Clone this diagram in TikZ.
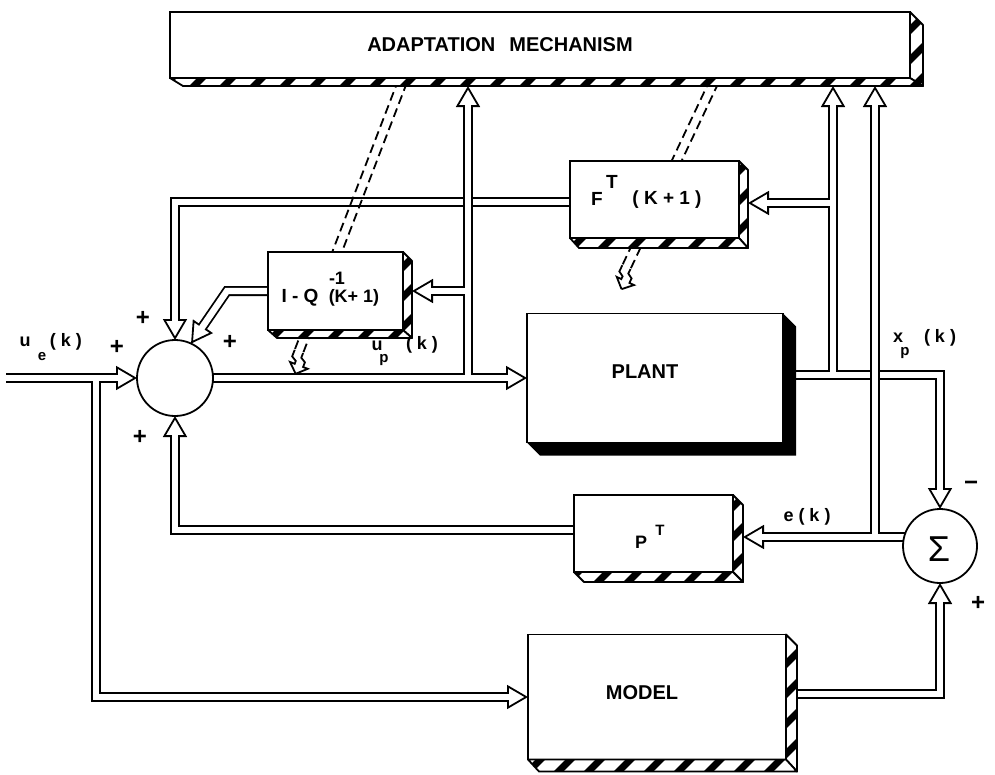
\documentclass[tikz,border=0pt]{standalone}
\usepackage{fontspec}
\setmainfont{Liberation Sans}
\usetikzlibrary{arrows.meta,calc}
\pgfdeclarelayer{paper}
\pgfdeclarelayer{wires}
\pgfsetlayers{paper,wires,main}

\newcommand\hatchface[1]{%
  \fill[white] #1;
  \begin{scope}
    \clip #1;
    \foreach \hx in {-820,-790,...,1000} \draw[line width=7pt] (\hx,800) -- ++(800,-800);
  \end{scope}
  \draw[line width=1.8pt,line join=round] #1;}
\newcommand\depthbox[3]{%
  \hatchface{(#1.north east) -- ++(#2,#2) -- ($(#1.south east)+(#2,#3)$) -- (#1.south east) -- cycle}
  \hatchface{(#1.south west) -- ++(#2,#3) -- ($(#1.south east)+(#2,#3)$) -- (#1.south east) -- cycle}
  \draw[line width=1.8pt] (#1.south west) rectangle (#1.north east);}

\newcommand\groupone[1]{%
  \draw[#1] (inL) -- (inE);
  \draw[#1] (inJ) -- (md1) -- (mdE);
  \draw[#1] (fo0) -- (fo1) -- (foE);
  \draw[#1] (po0) -- (po1) -- (poE);
  \draw[#1] (poJ) -- (puE);
  \draw[#1] (pu1) -- (fiE);
  \draw[#1] (mo0) -- (mo1) -- (moE);
  \draw[#1] (pt0) -- (pt1) -- (ptE);
  \draw[#1] (iq0) -- (iq1) -- (iqE);}
\newcommand\grouptwo[1]{%
  \draw[#1] (coS) -- (coE);
  \draw[#1] (coJ) -- (cuE);
  \draw[#1] (cu1) -- (ciE);
  \draw[#1] (eS) -- (eE);
  \draw[#1] (eJ) -- (euE);}

\tikzset{
  pipeblack/.style={draw=black,line width=10pt,line join=miter,line cap=butt},
  pipewhite/.style={draw=white,line width=6.4pt,line join=miter,line cap=butt},
  headst/.style={draw=black,line width=1.8pt,-{Triangle[length=21pt,width=24pt,fill=white]}},
  frontbox/.style={draw,fill=white,line width=1.8pt,inner sep=0pt,outer sep=0pt},
  sumnode/.style={circle,draw,fill=white,line width=1.8pt,inner sep=0pt,outer sep=0pt},
  dashln/.style={line width=1.8pt,dash pattern=on 9pt off 5pt},
  boltln/.style={line width=1.8pt,line join=miter},
  txt/.style={inner sep=0pt,font=\bfseries\fontsize{18}{18}\selectfont},
  mid/.style={inner sep=0pt,font=\bfseries\fontsize{19}{19}\selectfont},
  big/.style={inner sep=0pt,font=\bfseries\fontsize{20}{20}\selectfont},
  pm/.style={inner sep=0pt,font=\bfseries\fontsize{24}{24}\selectfont},
  sm/.style={inner sep=0pt,font=\bfseries\fontsize{15}{15}\selectfont},
}

\begin{document}
\begin{tikzpicture}[x=1pt,y=-1pt]
\useasboundingbox (0,0) rectangle (995,774);
\begin{pgfonlayer}{paper}
\fill[white] (0,0) rectangle (995,774);
\end{pgfonlayer}

% ---------- blocks ----------
\node[frontbox,minimum width=740pt,minimum height=66pt] (am) at (540,45) {};
\node[frontbox,minimum width=169pt,minimum height=77pt] (fb) at (654.5,199.5) {};
\node[frontbox,minimum width=135pt,minimum height=78pt] (iq) at (335.5,291) {};
\node[frontbox,minimum width=256pt,minimum height=129pt] (plant) at (655,378) {};
\node[frontbox,minimum width=159pt,minimum height=77pt] (pt) at (653.5,533.5) {};
\node[frontbox,minimum width=258pt,minimum height=125pt] (model) at (657,697) {};
\node[sumnode,minimum size=76pt] (s1) at (175,378) {};
\node[sumnode,minimum size=74pt] (s2) at (940,546) {};

\depthbox{am}{13}{8}
\depthbox{fb}{9}{10}
\depthbox{iq}{9}{8}
\depthbox{pt}{10}{10}
\depthbox{model}{11}{12}
\fill (plant.north east) -- ++(13,13) -- ($(plant.south east)+(13,13)$) -- ($(plant.south west)+(13,13)$) -- (plant.south west) -- (plant.south east) -- cycle;
\draw[line width=1.8pt] (plant.south west) rectangle (plant.north east);

% ---------- connector points ----------
\coordinate (inL) at (6,378);   \coordinate (inJ) at (96,378);  \coordinate (inE) at (119,378);
\coordinate (md1) at (96,697);  \coordinate (mdE) at (510,697);
\coordinate (fo0) at (575,202); \coordinate (fo1) at (175,202); \coordinate (foE) at (175,322);
\coordinate (po0) at (790,375); \coordinate (poJ) at (833,375); \coordinate (po1) at (940,375); \coordinate (poE) at (940,491);
\coordinate (pu1) at (833,203); \coordinate (puE) at (833,104); \coordinate (puT) at (833,86);
\coordinate (fiE) at (766,203); \coordinate (fiT) at (748,203);
\coordinate (mo0) at (790,694); \coordinate (mo1) at (940,694); \coordinate (moE) at (940,601);
\coordinate (pt0) at (580,530); \coordinate (pt1) at (175,530); \coordinate (ptE) at (175,434);
\coordinate (iq0) at (272,291); \coordinate (iq1) at (227,291); \coordinate (iqE) at (201.2,328.7);
\coordinate (coS) at (200,378); \coordinate (coJ) at (468,378); \coordinate (coE) at (509,378);
\coordinate (cu1) at (468,291); \coordinate (cuE) at (468,104); \coordinate (cuT) at (468,86);
\coordinate (ciE) at (430,291); \coordinate (ciT) at (412,291);
\coordinate (eS) at (915,537);  \coordinate (eJ) at (875,537);  \coordinate (eE) at (761,537); \coordinate (eT) at (743,537);
\coordinate (euE) at (875,104); \coordinate (euT) at (875,86);

\begin{pgfonlayer}{wires}
\groupone{pipeblack}
\draw[headst] (inJ) -- (s1.west);
\draw[headst] (md1) -- (model.west);
\draw[headst] (fo1) -- (s1.north);
\draw[headst] (po1) -- (s2.north);
\draw[headst] (poJ) -- (puT);
\draw[headst] (pu1) -- (fiT);
\draw[headst] (mo1) -- (s2.south);
\draw[headst] (pt1) -- (s1.south);
\draw[headst] (iq1) -- (s1.65);
\groupone{pipewhite}
\grouptwo{pipeblack}
\draw[headst] (coJ) -- (plant.west);
\draw[headst] (cu1) -- (cuT);
\draw[headst] (cu1) -- (ciT);
\draw[headst] (eJ) -- (eT);
\draw[headst] (eJ) -- (euT);
\grouptwo{pipewhite}

% adjustment (dashed) arrows
\begin{scope}[shift={(291,372)},rotate=249]
  \draw[dashln] (-312,-4.5) -- (-21,-4.5);
  \draw[dashln] (-312,4.5) -- (-21,4.5);
  \draw[boltln] (-22,-4.5) -- (-17,-4.5) -- (-14,-9.5) -- (-9,-9.5) -- (-9,-14.5) -- (0,-5);
  \draw[boltln] (-22,4.5) -- (-15,4.5) -- (-12,-0.5) -- (-9,-0.5) -- (-9,4.5) -- (0,-5);
\end{scope}
\begin{scope}[shift={(617,287)},rotate=244.7]
  \draw[dashln] (-228,-4.5) -- (-21,-4.5);
  \draw[dashln] (-228,4.5) -- (-21,4.5);
  \draw[boltln] (-22,-4.5) -- (-17,-4.5) -- (-14,-9.5) -- (-9,-9.5) -- (-9,-14.5) -- (0,-5);
  \draw[boltln] (-22,4.5) -- (-15,4.5) -- (-12,-0.5) -- (-9,-0.5) -- (-9,4.5) -- (0,-5);
\end{scope}
\end{pgfonlayer}

% ---------- texts ----------
\node[big] (amtxt) at (500,45) {ADAPTATION\hspace{14pt}MECHANISM};
\node[big] (plantxt) at (645,372) {PLANT};
\node[big] (modeltxt) at (642,693) {MODEL};
\node[mid] (ftF) at (597,199) {F};
\node[mid] (ftT) at (612,182) {T};
\node[mid] (ftK) at (667,200) {( K + 1 )};
\node[mid] (iqA) at (300,298) {I - Q};
\node[txt] (iqB) at (337,278) {-1};
\node[txt] (iqC) at (354,298) {(K+ 1)};
\node[txt] (ueu) at (25,342) {u};
\node[sm] (uee) at (42,357) {e};
\node[txt] (uek) at (66,342) {( k )};
\node[txt] (upu) at (377,346) {u};
\node[sm] (upp) at (384,360) {p};
\node[txt] (upk) at (422,345) {( k )};
\node[txt] (xpx) at (898,338) {x};
\node[sm] (xpp) at (905,353) {p};
\node[txt] (xpk) at (940,338) {( k )};
\node[txt] (ek) at (807,517) {e ( k )};
\node[txt] (ptP) at (641,542) {P};
\node[sm] (ptT) at (660,530) {T};
\node[inner sep=0pt,font=\fontsize{36}{36}\selectfont] (sig) at (939,549) {Σ};
\node[pm] (pl1) at (117,347) {+};
\node[pm] (pl2) at (143,318) {+};
\node[pm] (pl3) at (230,342) {+};
\node[pm] (pl4) at (140,437) {+};
\node[pm] (pl5) at (978,603) {+};
\node[pm] (mi1) at (971,486) {−};
\end{tikzpicture}
\end{document}
